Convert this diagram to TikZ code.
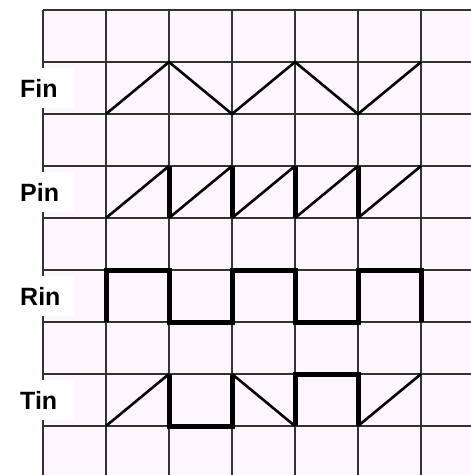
\documentclass[tikz,border=0pt]{standalone}
\usepackage{fontspec}
\setmainfont{Liberation Sans}
\definecolor{cellpink}{RGB}{253,247,253}

\begin{document}
\begin{tikzpicture}[
    x=1pt, y=-1pt,
    gridline/.style={draw=black!80, line width=1.6pt},
    sigbox/.style={
        fill=white,
        anchor=west,
        text width=51pt,
        align=left,
        inner xsep=3pt,
        minimum height=40pt,
        font=\bfseries\fontsize{25}{25}\selectfont
    },
    ramp/.style={line width=2.6pt},
    jump/.style={line width=5pt}
]
\useasboundingbox (0,0) rectangle (471,475);

% Grid
\fill[cellpink] (43,10) rectangle (471,475);
\foreach \x in {43,106,...,421}
    \draw[gridline] (\x,10) -- (\x,475);
\foreach \y in {10,62,...,426}
    \draw[gridline] (43,\y) -- (471,\y);

% Signal names
\node[sigbox] (fin) at (17,88) {Fin};
\node[sigbox] (pin) at (17,192) {Pin};
\node[sigbox] (rin) at (17,296) {Rin};
\node[sigbox] (tin) at (17,400) {Tin};

% Fin
\draw[ramp] (106,114) -- (169,62) -- (232,114) -- (295,62) -- (358,114) -- (421,62);

% Pin
\foreach \x in {106,169,...,358}
    \draw[ramp] (\x,218) -- ({\x+63},166);
\foreach \x in {169,232,...,358}
    \draw[jump] (\x,166) -- (\x,218);

% Rin
\draw[jump] (106,322) -- (106,270) -- (169,270) -- (169,322) -- (232,322) -- (232,270)
    -- (295,270) -- (295,322) -- (358,322) -- (358,270) -- (421,270) -- (421,322);

% Tin
\draw[ramp] (106,426) -- (169,374);
\draw[jump] (169,374) -- (169,426) -- (232,426) -- (232,374);
\draw[ramp] (232,374) -- (295,426);
\draw[jump] (295,426) -- (295,374) -- (358,374) -- (358,426);
\draw[ramp] (358,426) -- (421,374);

\end{tikzpicture}
\end{document}
